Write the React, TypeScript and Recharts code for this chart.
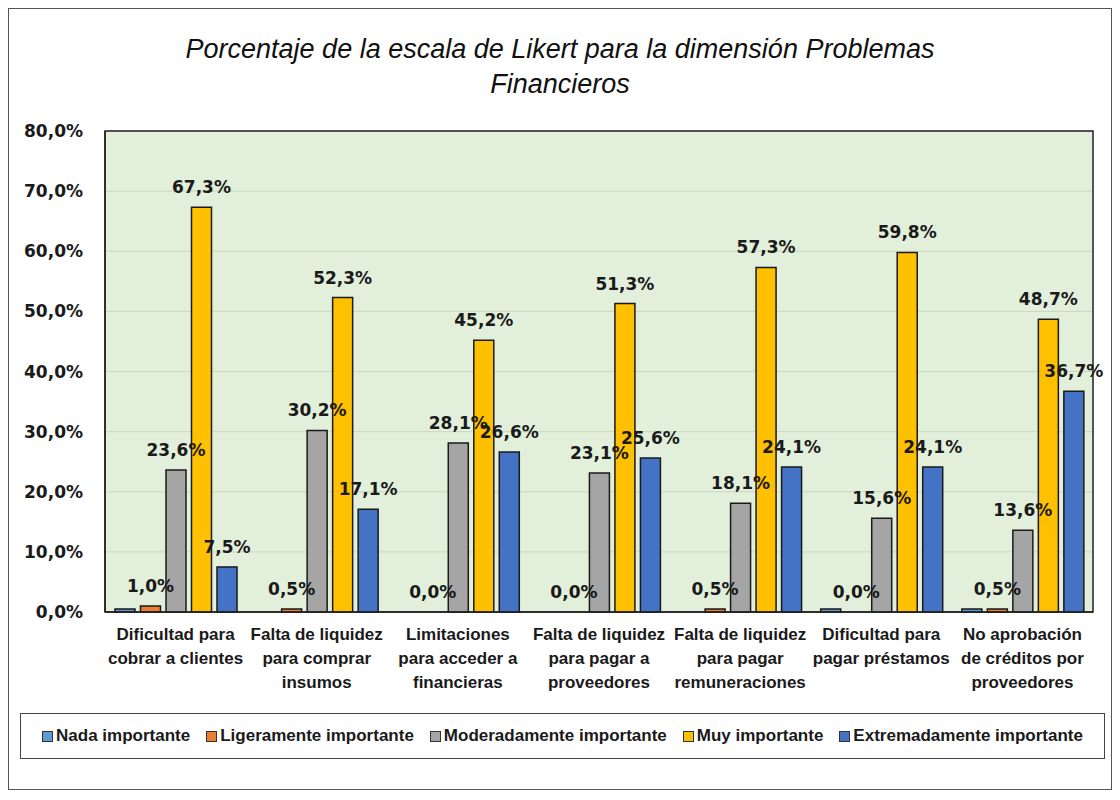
import React from 'react';
import { BarChart, Bar, XAxis, YAxis, CartesianGrid, LabelList, ReferenceArea, Rectangle } from 'recharts';

const categories = [
  'Dificultad para\ncobrar a clientes',
  'Falta de liquidez\npara comprar\ninsumos',
  'Limitaciones\npara acceder a\nfinancieras',
  'Falta de liquidez\npara pagar a\nproveedores',
  'Falta de liquidez\npara pagar\nremuneraciones',
  'Dificultad para\npagar préstamos',
  'No aprobación\nde créditos por\nproveedores',
];

const nada = [0.5, 0.0, 0.0, 0.0, 0.0, 0.5, 0.5];
const ligeramente = [1.0, 0.5, 0.0, 0.0, 0.5, 0.0, 0.5];
const moderadamente = [23.6, 30.2, 28.1, 23.1, 18.1, 15.6, 13.6];
const muy = [67.3, 52.3, 45.2, 51.3, 57.3, 59.8, 48.7];
const extremadamente = [7.5, 17.1, 26.6, 25.6, 24.1, 24.1, 36.7];

const yTicks = [0, 10, 20, 30, 40, 50, 60, 70, 80];

const series = [
  { key: 'nada', name: 'Nada importante', color: '#5B9BD5', labels: false },
  { key: 'ligeramente', name: 'Ligeramente importante', color: '#ED7D31', labels: true },
  { key: 'moderadamente', name: 'Moderadamente importante', color: '#A5A5A5', labels: true },
  { key: 'muy', name: 'Muy importante', color: '#FFC000', labels: true },
  { key: 'extremadamente', name: 'Extremadamente importante', color: '#4472C4', labels: true },
];

const data = categories.map((c, i) => ({
  category: c,
  nada: nada[i],
  ligeramente: ligeramente[i],
  moderadamente: moderadamente[i],
  muy: muy[i],
  extremadamente: extremadamente[i],
}));

const pct = (v: number) => v.toFixed(1).replace('.', ',') + '%';

const numFont = '"DejaVu Sans", Verdana, sans-serif';
const narrowFont = '"Liberation Sans Narrow", "Arial Narrow", "Liberation Sans", Arial, sans-serif';

const CategoryTick = (props: any) => {
  const { x, y, payload } = props;
  const lines = String(payload.value).split('\n');
  return (
    <g transform={`translate(${x},${y})`}>
      {lines.map((line, i) => (
        <text
          key={i}
          x={0}
          y={i * 24}
          dy={20}
          textAnchor="middle"
          fontFamily={narrowFont}
          fontWeight="bold"
          fontSize={17}
          fill="#1a1a1a"
        >
          {line}
        </text>
      ))}
    </g>
  );
};

// zero values get a hairline height so their label still shows, but no rect is drawn
const BarShape = (props: any) => {
  if (!props.height || Math.abs(props.height) < 0.5) return <g />;
  return <Rectangle {...props} />;
};

export default function App() {
  return (
    <div
      style={{
        position: 'relative',
        width: 1102,
        height: 780,
        border: '1.5px solid #555',
        background: '#fff',
      }}
    >
      <div
        style={{
          position: 'absolute',
          top: 23,
          left: 0,
          width: 1102,
          textAlign: 'center',
          fontFamily: '"Liberation Sans", Arial, sans-serif',
          fontStyle: 'italic',
          fontSize: 27,
          lineHeight: '35px',
          color: '#111',
        }}
      >
        Porcentaje de la escala de Likert para la dimensión Problemas
        <br />
        Financieros
      </div>

      <div style={{ position: 'absolute', top: 0, left: 0 }}>
        <BarChart
          width={1100}
          height={700}
          data={data}
          margin={{ top: 122, right: 16, left: 10, bottom: 7 }}
          barSize={20}
          barGap={5.5}
        >
          <CartesianGrid vertical={false} fill="#E2EFDA" stroke="#C9D8BD" strokeWidth={1} />
          <XAxis
            dataKey="category"
            interval={0}
            height={90}
            tick={<CategoryTick />}
            tickLine={false}
            axisLine={{ stroke: '#222', strokeWidth: 1.5 }}
          />
          <YAxis
            domain={[0, 80]}
            ticks={yTicks}
            width={86}
            tickFormatter={pct}
            tickLine={false}
            tickSize={0}
            tickMargin={22}
            axisLine={{ stroke: '#222', strokeWidth: 1.5 }}
            tick={{ fontFamily: numFont, fontWeight: 'bold', fontSize: 17, fill: '#1a1a1a' }}
          />
          <ReferenceArea y1={0} y2={80} fill="none" stroke="#222" strokeWidth={1.5} ifOverflow="visible" />
          {series.map((s) => (
            <Bar
              key={s.key}
              dataKey={s.key}
              name={s.name}
              fill={s.color}
              stroke="#1a1a1a"
              strokeWidth={1.5}
              minPointSize={0.01}
              shape={<BarShape />}
              isAnimationActive={false}
            >
              {s.labels && (
                <LabelList
                  dataKey={s.key}
                  position="top"
                  offset={14}
                  formatter={(v: any) => pct(Number(v))}
                  style={{ fontFamily: numFont, fontWeight: 'bold', fontSize: 17, fill: '#1a1a1a' }}
                />
              )}
            </Bar>
          ))}
        </BarChart>
      </div>

      <div
        style={{
          position: 'absolute',
          left: 11,
          top: 704,
          width: 1083,
          height: 44,
          border: '1.5px solid #444',
          display: 'flex',
          alignItems: 'center',
          justifyContent: 'center',
          gap: 16,
          fontFamily: narrowFont,
          fontWeight: 'bold',
          fontSize: 17,
          color: '#1a1a1a',
        }}
      >
        {series.map((s) => (
          <div key={s.key} style={{ display: 'flex', alignItems: 'center', gap: 3 }}>
            <span
              style={{
                display: 'inline-block',
                width: 9,
                height: 9,
                background: s.color,
                border: '1px solid #333',
              }}
            />
            <span>{s.name}</span>
          </div>
        ))}
      </div>
    </div>
  );
}
